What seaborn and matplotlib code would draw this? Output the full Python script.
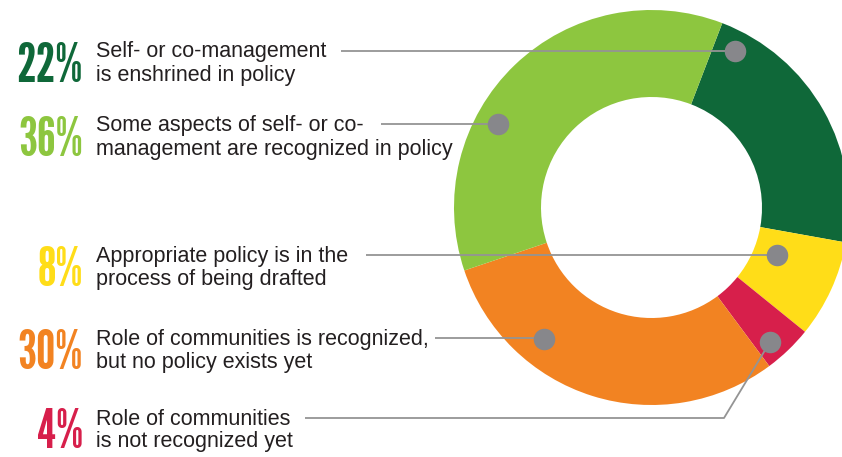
import matplotlib
matplotlib.use("Agg")
import matplotlib.pyplot as plt
import seaborn as sns

# ---- data ----
categories = [
    "Self- or co-management is enshrined in policy",
    "Appropriate policy is in the process of being drafted",
    "Role of communities is not recognized yet",
    "Role of communities is recognized, but no policy exists yet",
    "Some aspects of self- or co-management are recognized in policy",
]
values = [22, 8, 4, 30, 36]
colors = ["#0F6839", "#FFDD18", "#D71F4B", "#F28322", "#8DC63F"]

# label rows (top to bottom on the left)
label_pct = ["22%", "36%", "8%", "30%", "4%"]
label_lines = [
    ["Self- or co-management", "is enshrined in policy"],
    ["Some aspects of self- or co-", "management are recognized in policy"],
    ["Appropriate policy is in the", "process of being drafted"],
    ["Role of communities is recognized,", "but no policy exists yet"],
    ["Role of communities", "is not recognized yet"],
]
label_colors = ["#0F6839", "#8DC63F", "#FFDD18", "#F28322", "#D71F4B"]

# ---- layout (pixels, origin top-left) ----
W, H = 842, 457
baselines = [(57, 81), (131, 155), (262, 285), (345, 368), (425, 447)]
line_start_x = [341, 381, 366, 435, 305]
markers = [(735, 51), (498, 124), (777, 255), (544, 339), (770, 342)]
line_y = [51, 124, 255, 338, 418]
elbow_4 = (724, 418)

sns.set_theme(style="white")
plt.rcParams["font.family"] = ["Liberation Sans", "DejaVu Sans"]

fig = plt.figure(figsize=(W / 100, H / 100), dpi=100)
ax = fig.add_axes([0, 0, 1, 1])


def Y(y):
    return H - y


cx, cy, R, r_in = 651.5, 207.5, 197.5, 110.5
ax.pie(values, colors=colors, startangle=69, counterclock=False,
       radius=R, center=(cx, Y(cy)),
       wedgeprops=dict(width=R - r_in, edgecolor="none", linewidth=0))

ax.set_xlim(0, W)
ax.set_ylim(0, H)
ax.set_aspect("equal")
ax.axis("off")

gray_line = "#949494"
gray_dot = "#87878B"
text_col = "#231F20"

for i in range(5):
    mx, my = markers[i]
    if i == 4:
        ex, ey = elbow_4
        ax.plot([line_start_x[i], ex, mx], [Y(line_y[i]), Y(ey), Y(my)],
                color=gray_line, lw=1.3, zorder=3, solid_capstyle="butt")
    else:
        ax.plot([line_start_x[i], mx], [Y(line_y[i]), Y(line_y[i])],
                color=gray_line, lw=1.3, zorder=3, solid_capstyle="butt")
    ax.scatter([mx], [Y(my)], s=240, color=gray_dot, zorder=4, linewidths=0)

    b1, b2 = baselines[i]
    ax.text(96, Y(b1), label_lines[i][0], fontsize=15.5, color=text_col,
            ha="left", va="baseline")
    ax.text(96, Y(b2), label_lines[i][1], fontsize=15.5, color=text_col,
            ha="left", va="baseline")
    ax.text(83, Y(b2 + 1), label_pct[i], fontsize=39,
            family=["League Gothic", "Antonio", "Oswald", "DejaVu Sans"],
            color=label_colors[i], ha="right", va="baseline")

fig.savefig("out.png", dpi=100)
